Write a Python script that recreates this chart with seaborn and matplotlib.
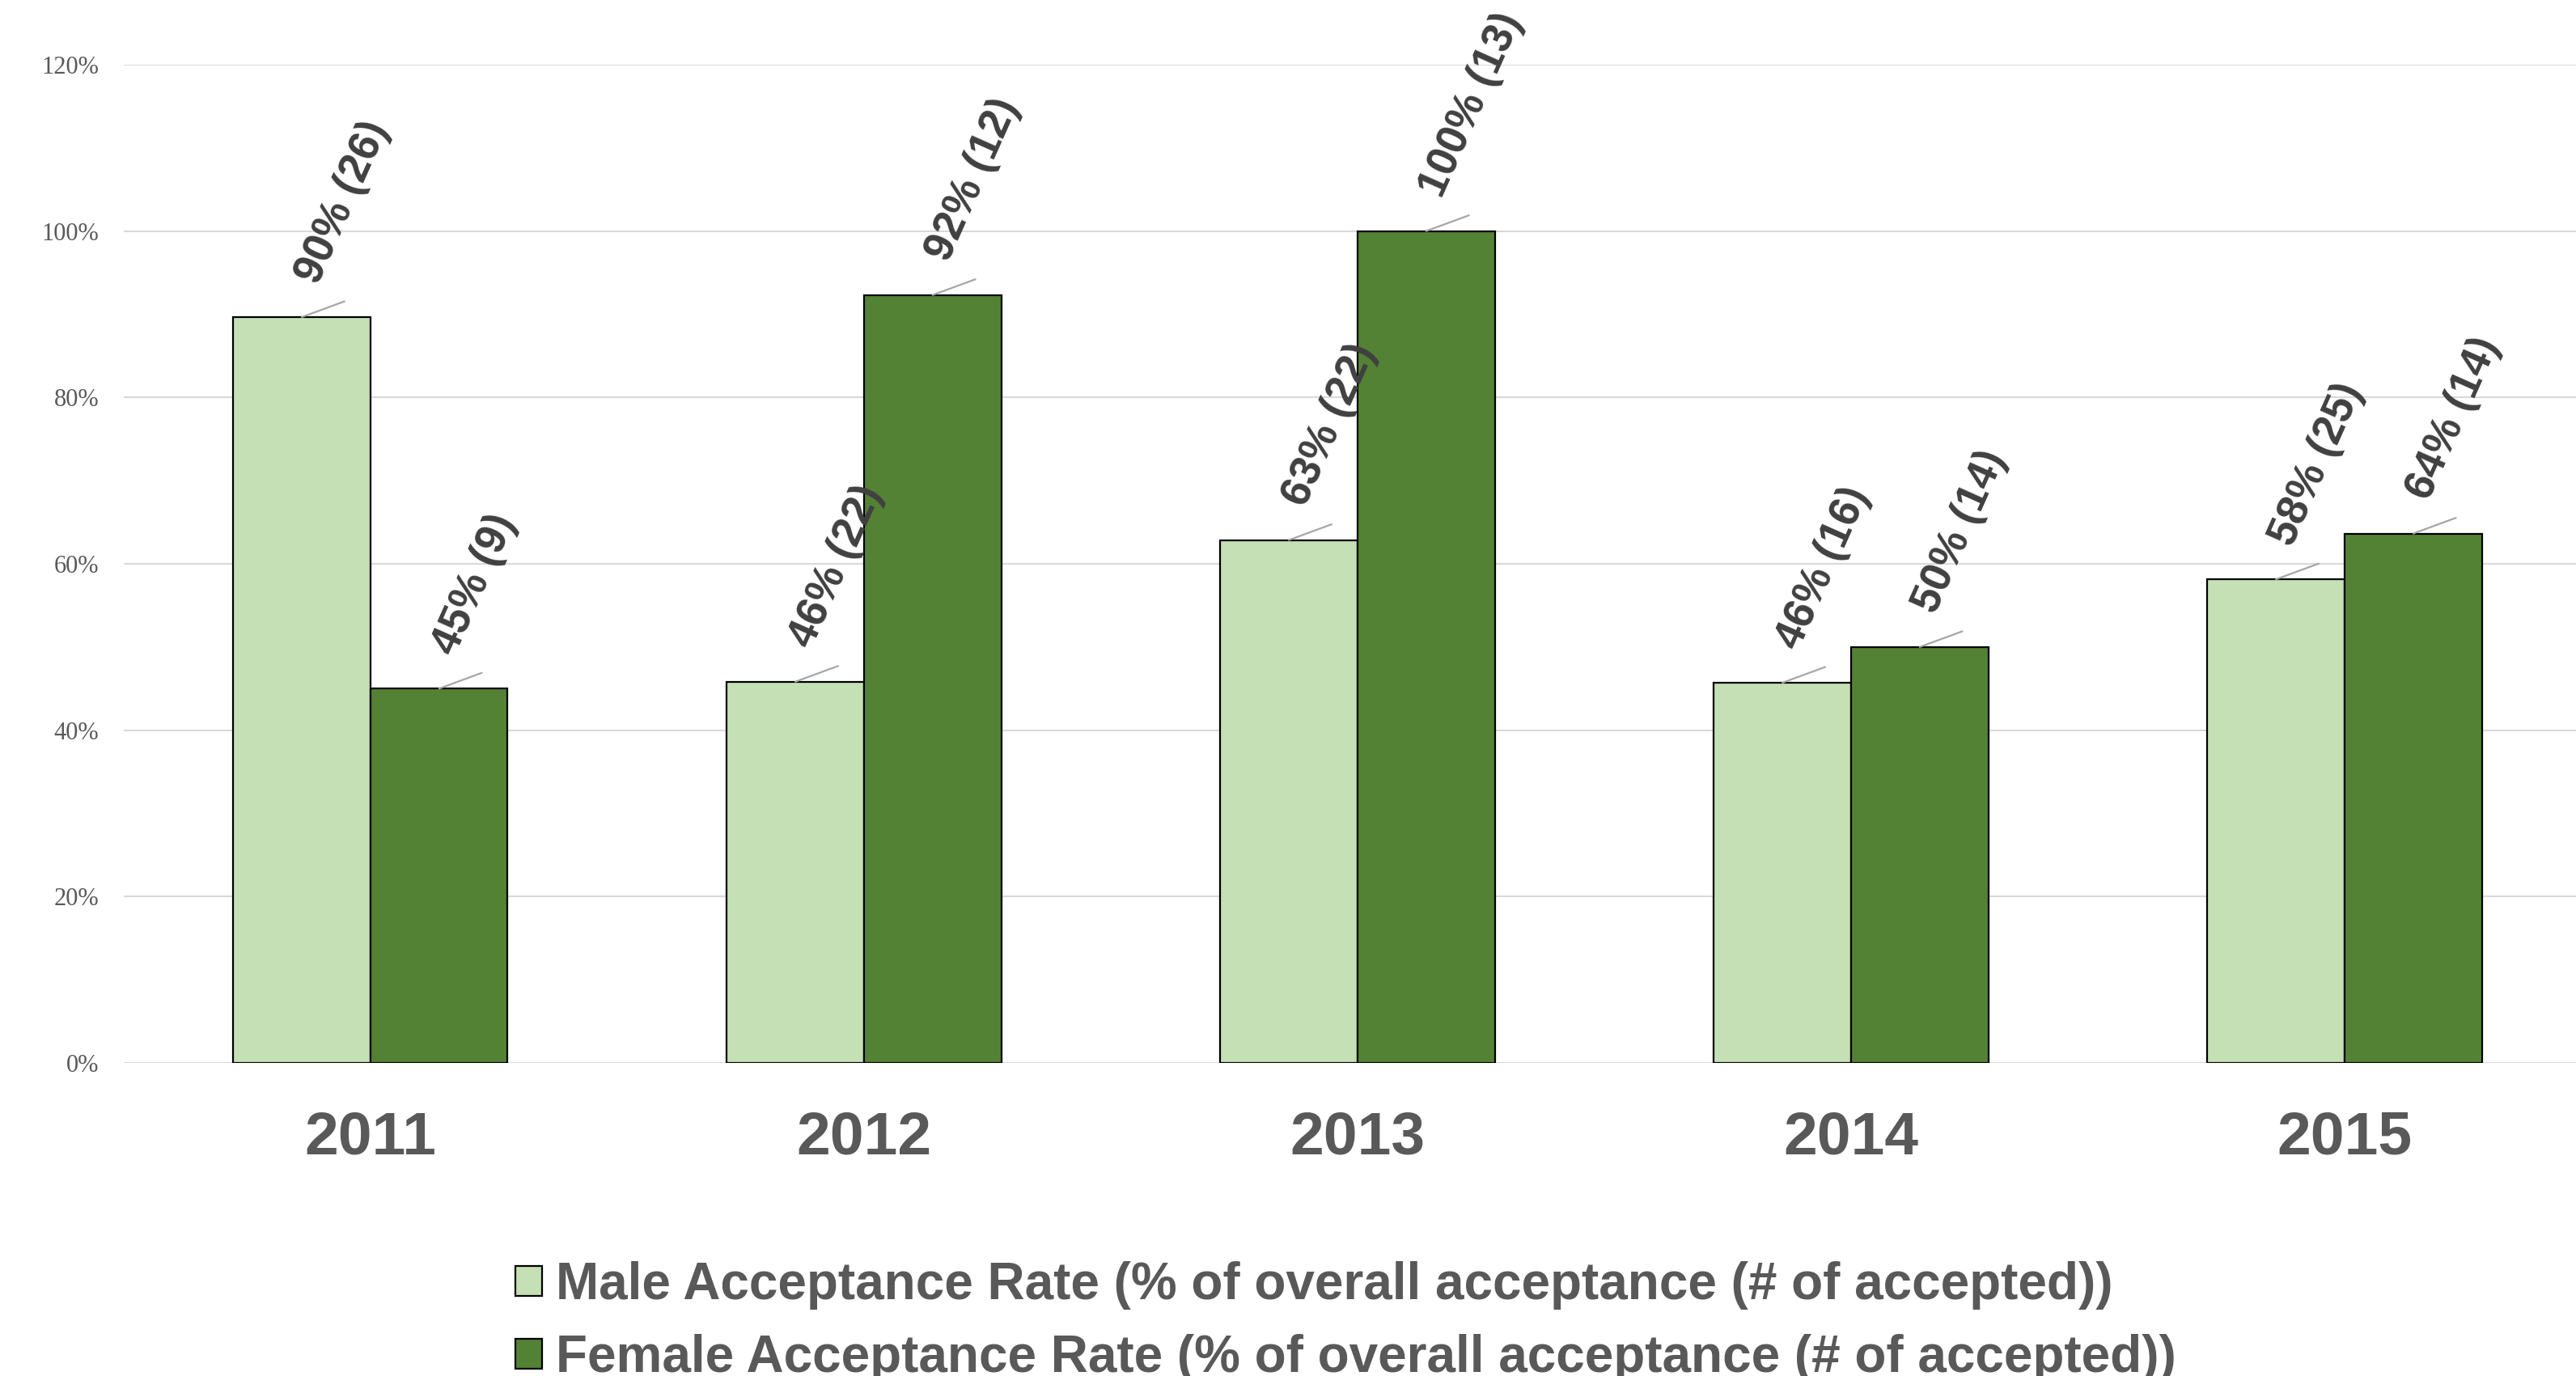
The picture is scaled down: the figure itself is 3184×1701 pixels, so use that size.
import numpy as np
import pandas as pd
import matplotlib
matplotlib.use("Agg")
import matplotlib.pyplot as plt
import matplotlib.patches as mpatches
import seaborn as sns

# ---- data ----
years = ["2011", "2012", "2013", "2014", "2015"]
male_rate = [89.66, 45.83, 62.86, 45.71, 58.14]      # % of overall acceptance
female_rate = [45.00, 92.31, 100.00, 50.00, 63.64]
male_count = [26, 22, 22, 16, 25]                    # number accepted
female_count = [9, 12, 13, 14, 14]
series = ["Male Acceptance Rate (% of overall acceptance (# of accepted))",
          "Female Acceptance Rate (% of overall acceptance (# of accepted))"]
yticks = [0, 20, 40, 60, 80, 100, 120]

df = pd.DataFrame({
    "year": years * 2,
    "rate": male_rate + female_rate,
    "series": [series[0]] * len(years) + [series[1]] * len(years),
})

sns.set_theme(style="white")
plt.rcParams["font.family"] = ["Liberation Sans", "DejaVu Sans"]

fig = plt.figure(figsize=(15.92, 8.505), dpi=200)
ax = fig.add_axes([0.048, 0.2275, 0.958, 0.7255])

colors = {series[0]: "#c5e0b4", series[1]: "#548235"}
sns.barplot(data=df, x="year", y="rate", hue="series", palette=colors,
            width=0.556, edgecolor="black", linewidth=0.8, saturation=1,
            legend=False, ax=ax, zorder=2)

# value labels with leader lines
for cont, rates, counts in zip(ax.containers, [male_rate, female_rate],
                               [male_count, female_count]):
    for bar, rv, cv in zip(cont, rates, counts):
        x = bar.get_x() + bar.get_width() / 2
        y = bar.get_height()
        ax.annotate("", xy=(x, y), xytext=(19, 7), textcoords="offset points",
                    arrowprops=dict(arrowstyle="-", color="#a6a6a6", lw=0.8,
                                    shrinkA=0, shrinkB=0))
        ax.annotate(f"{rv:.0f}% ({cv})", xy=(x, y), xytext=(7, 14),
                    textcoords="offset points", rotation=66,
                    rotation_mode="anchor", ha="left", va="baseline",
                    fontsize=19, fontweight="bold", color="#404040")

ax.set_xlim(-0.5, len(years) - 0.5)
ax.set_ylim(0, 120)
ax.set_yticks(yticks)
ax.set_yticklabels([f"{t}%" for t in yticks], fontfamily="Liberation Serif",
                   fontsize=11, color="#595959")
ax.tick_params(axis="y", length=0, pad=11)
ax.tick_params(axis="x", length=0, pad=21)
for lbl in ax.get_xticklabels():
    lbl.set_fontsize(27)
    lbl.set_fontweight("bold")
    lbl.set_color("#595959")
ax.set_xlabel("")
ax.set_ylabel("")
ax.yaxis.grid(True, color="#d9d9d9", lw=0.75)
ax.set_axisbelow(True)
for s in ax.spines.values():
    s.set_visible(False)

handles = [mpatches.Patch(facecolor=colors[s], edgecolor="black", linewidth=0.8)
           for s in series]
fig.legend(handles, series, loc="upper left", bbox_to_anchor=(0.2, 0.0835),
           frameon=False, borderpad=0, borderaxespad=0, handlelength=0.52,
           handleheight=0.52, handletextpad=0.27, labelspacing=0.47,
           prop=dict(family="Liberation Sans", weight="bold", size=23),
           labelcolor="#595959")

fig.savefig("out.png", dpi=200)
